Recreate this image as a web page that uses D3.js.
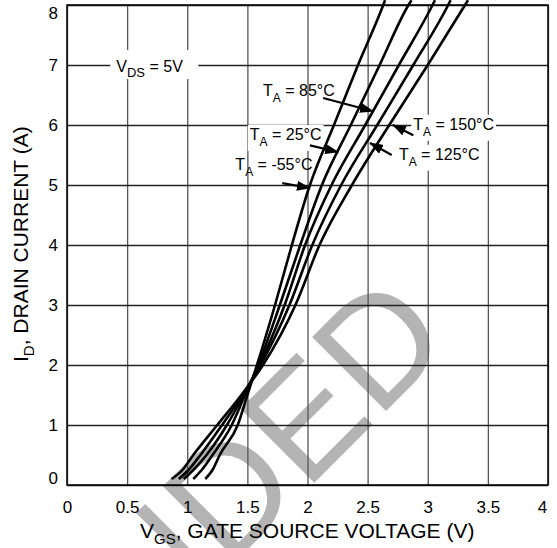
<html>
<head>
<meta charset="UTF-8">
<title>ID vs VGS</title>
<script src="https://d3js.org/d3.v7.min.js"></script>
<style>
html,body{margin:0;padding:0;background:#fff;}
svg text{font-family:"Liberation Sans",Arial,sans-serif;fill:#000;}
.grid line{stroke-width:1.3;}
.xgrid line{stroke:#555;}
.ygrid line{stroke:#222;}
.curve{fill:none;stroke:#000;stroke-width:2.6;}
.arrow{stroke:#000;stroke-width:2.2;}
</style>
</head>
<body>
<div id="container"></div>
<script>
// axis ticks
const vgsTicks = [0, 0.5, 1, 1.5, 2, 2.5, 3, 3.5, 4]
const idTicks = [0, 1, 2, 3, 4, 5, 6, 7, 8]

// drain current sample points (A), shared by all curves
const idPoints = [0.1, 0.25, 0.5, 1, 1.5, 2, 3, 4, 5, 6, 7, 8, 8.08]
// gate-source voltage (V) at each current, per ambient temperature
const vgsM55 = [1.15, 1.21, 1.27, 1.42, 1.50, 1.58, 1.73, 1.87, 2.02, 2.22, 2.42, 2.63, 2.645]
const vgs25  = [1.05, 1.12, 1.21, 1.37, 1.48, 1.59, 1.77, 1.94, 2.12, 2.36, 2.60, 2.84, 2.865]
const vgs85  = [0.97, 1.05, 1.16, 1.33, 1.47, 1.60, 1.81, 1.98, 2.20, 2.48, 2.76, 3.04, 3.06]
const vgs125 = [0.93, 1.01, 1.11, 1.29, 1.46, 1.61, 1.85, 2.04, 2.28, 2.58, 2.88, 3.17, 3.19]
const vgs150 = [0.87, 0.96, 1.05, 1.25, 1.45, 1.63, 1.90, 2.10, 2.37, 2.68, 3.00, 3.31, 3.335]
const tempLabels = ["-55°C", "25°C", "85°C", "125°C", "150°C"]

const marge = {top: 5, left: 67}
const width = 481, height = 480

const xScale = d3.scaleLinear().domain([0, 4]).range([0, width])
const yScale = d3.scaleLinear().domain([0, 8]).range([height, 0])

const svg = d3.select("#container").append("svg")
    .attr("width", 557).attr("height", 548)

// watermark behind everything
svg.append("text")
    .attr("transform", "translate(228,569) rotate(-45)")
    .attr("text-anchor", "end")
    .style("font-size", "152px")
    .style("fill", "#b4b4b4")
    .text("MEN")
svg.append("text")
    .attr("transform", "translate(228,569) rotate(-45)")
    .style("font-size", "152px")
    .style("fill", "#b4b4b4")
    .text("DED")

const g = svg.append("g")
    .attr("transform", "translate(" + marge.left + "," + marge.top + ")")

// grid + tick labels
const xAxis = g.append("g")
    .attr("class", "grid xgrid")
    .attr("transform", "translate(0," + height + ")")
    .call(d3.axisBottom(xScale).tickValues(vgsTicks).tickSize(-height).tickPadding(16)
        .tickFormat(d => d))
const yAxis = g.append("g")
    .attr("class", "grid ygrid")
    .call(d3.axisLeft(yScale).tickValues(idTicks).tickSize(-width).tickPadding(9))

g.selectAll(".grid .domain").remove()
g.selectAll(".grid text").style("font-size", "17px").attr("fill", "#000")
xAxis.selectAll("text").attr("dy", "0.71em")
xAxis.selectAll(".tick").filter(d => d === 4).select("text").attr("x", -6)
yAxis.selectAll(".tick").filter(d => d === 8).select("text").attr("y", 8)
yAxis.selectAll(".tick").filter(d => d === 0).select("text").attr("y", -7)

// V_DS label with white background
const vds = g.append("g")
vds.append("rect")
    .attr("x", xScale(0.36)).attr("y", yScale(7.25))
    .attr("width", 88).attr("height", 29).attr("fill", "#fff")
const vdsText = vds.append("text")
    .attr("x", xScale(0.41)).attr("y", yScale(6.88))
    .style("font-size", "16px")
vdsText.append("tspan").text("V")
vdsText.append("tspan").attr("dy", 5).style("font-size", "13px").text("DS")
vdsText.append("tspan").attr("dy", -5).text(" = 5V")

// temperature annotations: label position, arrow start, arrow tip (data units)
const notes = [
    {t: tempLabels[2], x: 1.63, y: 6.48, box: false, a: [2.13, 6.45, 2.545, 6.23]},
    {t: tempLabels[1], x: 1.52, y: 5.75, box: true,  a: [2.02, 5.66, 2.255, 5.55]},
    {t: tempLabels[0], x: 1.40, y: 5.25, box: false, a: [1.79, 5.03, 2.02, 4.95]},
    {t: tempLabels[4], x: 2.88, y: 5.92, box: true,  a: [2.88, 5.83, 2.71, 6.00]},
    {t: tempLabels[3], x: 2.76, y: 5.42, box: true,  a: [2.70, 5.50, 2.52, 5.70]}
]

svg.append("defs").append("marker")
    .attr("id", "head")
    .attr("markerUnits", "userSpaceOnUse")
    .attr("markerWidth", 14).attr("markerHeight", 10)
    .attr("refX", 13).attr("refY", 5)
    .attr("orient", "auto")
    .append("path").attr("d", "M0,0 L14,5 L0,10 Z").attr("fill", "#000")

notes.forEach(n => {
    const lg = g.append("g")
    const txt = lg.append("text")
        .attr("x", xScale(n.x)).attr("y", yScale(n.y))
        .style("font-size", "16px")
    txt.append("tspan").text("T")
    txt.append("tspan").attr("dy", 6).style("font-size", "12px").text("A")
    txt.append("tspan").attr("dy", -6).text(" = " + n.t)
    if (n.box) {
        const bb = txt.node().getBBox()
        lg.insert("rect", "text")
            .attr("x", bb.x - 2).attr("y", bb.y - 1)
            .attr("width", bb.width + 4).attr("height", bb.height + 3)
            .attr("fill", "#fff")
    }
    lg.append("line").attr("class", "arrow")
        .attr("x1", xScale(n.a[0])).attr("y1", yScale(n.a[1]))
        .attr("x2", xScale(n.a[2])).attr("y2", yScale(n.a[3]))
        .attr("marker-end", "url(#head)")
})

// curves
const line = d3.line()
    .x(d => xScale(d[0]))
    .y(d => yScale(d[1]))
    .curve(d3.curveMonotoneX)

const series = [vgsM55, vgs25, vgs85, vgs125, vgs150]
g.selectAll(".curve")
    .data(series)
    .enter().append("path")
    .attr("class", "curve")
    .attr("d", vs => line(vs.map((v, i) => [v, idPoints[i]])))

// frame
g.append("rect")
    .attr("width", width).attr("height", height)
    .attr("fill", "none").attr("stroke", "#000").attr("stroke-width", 1.5)

// axis titles
const xt = svg.append("text")
    .attr("x", 140).attr("y", 538)
    .style("font-size", "21px")
xt.append("tspan").text("V")
xt.append("tspan").attr("dy", 6).style("font-size", "15px").text("GS")
xt.append("tspan").attr("dy", -6).text(", GATE SOURCE VOLTAGE (V)")

const yt = svg.append("text")
    .attr("transform", "translate(28,362) rotate(-90)")
    .style("font-size", "21px")
yt.append("tspan").text("I")
yt.append("tspan").attr("dy", 6).style("font-size", "15px").text("D")
yt.append("tspan").attr("dy", -6).text(", DRAIN CURRENT (A)")
</script>
</body>
</html>
